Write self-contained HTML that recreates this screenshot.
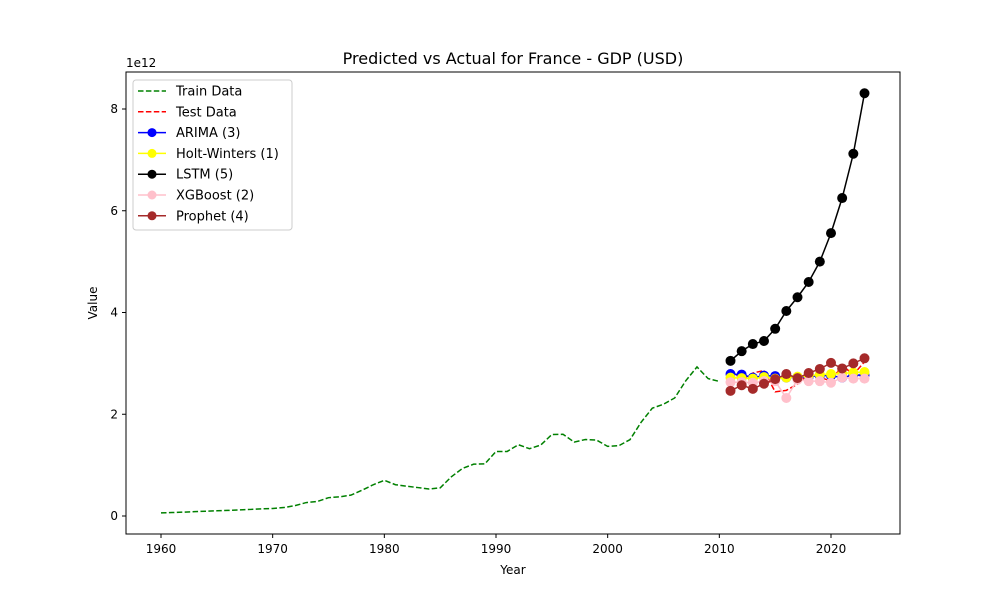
<!DOCTYPE html>
<html><head><meta charset="utf-8">
<style>
body{margin:0;background:#fff;font-family:"Liberation Sans","DejaVu Sans",sans-serif;}
svg text{font-family:"DejaVu Sans","Liberation Sans",sans-serif;}
</style></head>
<body>
<svg id="chart" width="1000" height="600" xmlns="http://www.w3.org/2000/svg"></svg>
<script>
const trainYears = [];
for (let y = 1960; y <= 2010; y++) trainYears.push(y);
const trainValues = [0.062,0.068,0.076,0.085,0.094,0.102,0.110,0.119,0.129,0.141,0.148,0.166,0.204,0.264,0.286,0.360,0.377,0.410,0.506,0.614,0.701,0.615,0.585,0.559,0.530,0.553,0.771,0.935,1.019,1.025,1.269,1.269,1.401,1.323,1.394,1.601,1.606,1.453,1.503,1.493,1.368,1.382,1.501,1.844,2.120,2.197,2.320,2.660,2.930,2.700,2.645];
const testYears = [2011,2012,2013,2014,2015,2016,2017,2018,2019,2020,2021,2022,2023];
const testValues = [2.87,2.68,2.81,2.86,2.44,2.47,2.59,2.79,2.73,2.65,2.96,2.78,3.03];
const arimaValues = [2.79,2.78,2.72,2.76,2.75,2.72,2.73,2.74,2.76,2.76,2.72,2.77,2.77];
const hwValues = [2.72,2.71,2.70,2.73,2.70,2.72,2.74,2.76,2.78,2.79,2.80,2.82,2.83];
const lstmValues = [3.05,3.24,3.38,3.44,3.68,4.03,4.30,4.60,5.00,5.56,6.25,7.12,8.31];
const xgbValues = [2.63,2.63,2.62,2.65,2.65,2.32,2.68,2.65,2.65,2.62,2.72,2.70,2.70];
const prophetValues = [2.46,2.57,2.50,2.60,2.69,2.79,2.71,2.81,2.89,3.01,2.90,3.00,3.10];
const xTicks = [1960,1970,1980,1990,2000,2010,2020];
const yTicks = [0,2,4,6,8];

const NS = "http://www.w3.org/2000/svg";
const svg = document.getElementById('chart');
const L=126, R=900, T=72, B=534;
const xs = y => 161 + (y-1960)*(831-161)/60;
const ys = v => 516 - v*(516-109)/8;
function el(tag, attrs, parent){const e=document.createElementNS(NS,tag);for(const k in attrs)e.setAttribute(k,attrs[k]);(parent||svg).appendChild(e);return e;}

const title = el('text',{x:513,y:64,'text-anchor':'middle','font-size':16,fill:'#000'});
title.textContent='Predicted vs Actual for France - GDP (USD)';



const frame = el('rect',{x:L,y:T,width:R-L,height:B-T,fill:'none',stroke:'#000','stroke-width':1});



xTicks.forEach(t=>{
  el('line',{x1:xs(t),x2:xs(t),y1:B,y2:B+4,stroke:'#000'});
  const tx=el('text',{x:xs(t),y:B+19,'text-anchor':'middle','font-size':12});
  tx.textContent=t;
  
  
});
yTicks.forEach(t=>{
  el('line',{x1:L-4,x2:L,y1:ys(t),y2:ys(t),stroke:'#000'});
  const tx=el('text',{x:L-8,y:ys(t)+4,'text-anchor':'end','font-size':12});
  tx.textContent=t;
  
  
});
const sci=el('text',{x:126,y:67,'font-size':12});sci.textContent='1e12';


const xl=el('text',{x:513,y:574,'text-anchor':'middle','font-size':12});xl.textContent='Year';


const yl=el('text',{x:97,y:303,'text-anchor':'middle','font-size':12,transform:'rotate(-90 97 303)'});yl.textContent='Value';



function line(years, vals, color, dashed, markers, name){
  const g=el('g',{});
  
  
  const pts=years.map((y,i)=>xs(y)+','+ys(vals[i])).join(' ');
  el('polyline',{points:pts,fill:'none',stroke:color,'stroke-width':1.5,'stroke-dasharray':dashed?'5.5,2.4':'none'},g);
  if(markers) years.forEach((y,i)=>{
    const c=el('circle',{cx:xs(y),cy:ys(vals[i]),r:5,fill:color},g);
    
    
  });
}
line(trainYears,trainValues,'green',true,false,'train-data-line');
line(testYears,testValues,'red',true,false,'test-data-line');
line(testYears,arimaValues,'blue',false,true,'arima-series');
line(testYears,hwValues,'yellow',false,true,'holt-winters-series');
line(testYears,lstmValues,'black',false,true,'lstm-series');
line(testYears,xgbValues,'pink',false,true,'xgboost-series');
line(testYears,prophetValues,'brown',false,true,'prophet-series');

// legend
const lg=el('g',{});


el('rect',{x:133,y:80,width:159,height:150,rx:3,fill:'#fff','fill-opacity':0.8,stroke:'#ccc'},lg);
const entries=[['Train Data','green',true,false],['Test Data','red',true,false],['ARIMA (3)','blue',false,true],['Holt-Winters (1)','yellow',false,true],['LSTM (5)','black',false,true],['XGBoost (2)','pink',false,true],['Prophet (4)','brown',false,true]];
entries.forEach((e,i)=>{
  const y=91+i*20.8;
  const g=el('g',{},lg);
  
  
  el('line',{x1:138,x2:166,y1:y,y2:y,stroke:e[1],'stroke-width':1.5,'stroke-dasharray':e[2]?'5.5,2.4':'none'},g);
  if(e[3]) el('circle',{cx:152,cy:y,r:4.5,fill:e[1]},g);
  const t=el('text',{x:176,y:y+4.5,'font-size':13},g);t.textContent=e[0];
});
</script>
</body></html>
